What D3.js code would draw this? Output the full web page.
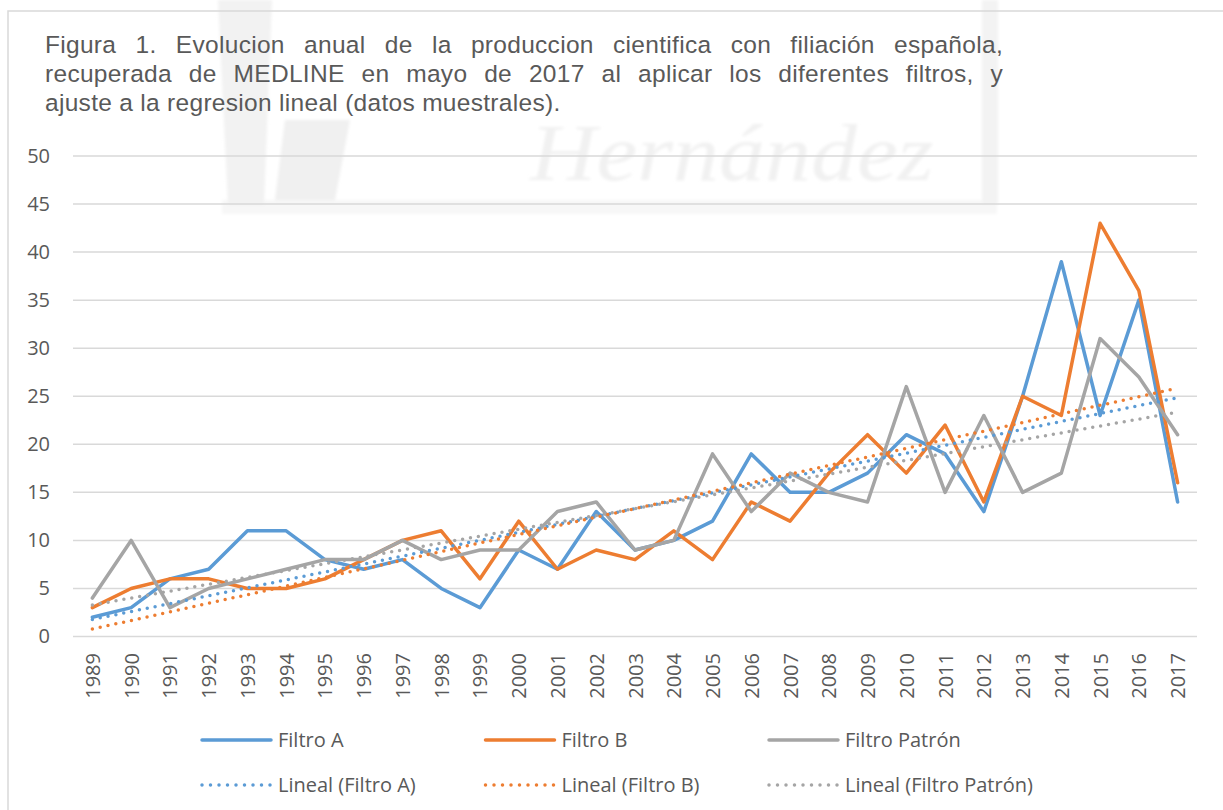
<!DOCTYPE html>
<html>
<head>
<meta charset="utf-8">
<script src="https://cdn.jsdelivr.net/npm/d3@7"></script>
<style>
  body { margin: 0; background: #fff; }
  svg { display: block; }
</style>
</head>
<body>
<div id="chart"></div>
<script>
// data
const years = ['1989','1990','1991','1992','1993','1994','1995','1996','1997','1998',
  '1999','2000','2001','2002','2003','2004','2005','2006','2007','2008',
  '2009','2010','2011','2012','2013','2014','2015','2016','2017']
const filtroA = [2,3,6,7,11,11,8,7,8,5,3,9,7,13,9,10,12,19,15,15,17,21,19,13,25,39,23,35,14]
const filtroB = [3,5,6,6,5,5,6,8,10,11,6,12,7,9,8,11,8,14,12,17,21,17,22,14,25,23,43,36,16]
const filtroPatron = [4,10,3,5,6,7,8,8,10,8,9,9,13,14,9,10,19,13,17,15,14,26,15,23,15,17,31,27,21]
const yTicks = [0,5,10,15,20,25,30,35,40,45,50]
const seriesNames = ['Filtro A', 'Filtro B', 'Filtro Patrón']
const colors = ['#5b9bd5', '#ed7d31', '#a5a5a5']
const titleLines = [
  'Figura 1. Evolucion anual de la produccion cientifica con filiación española,',
  'recuperada de MEDLINE en mayo de 2017 al aplicar los diferentes filtros, y',
  'ajuste a la regresion lineal (datos muestrales).'
]

const W = 1223, H = 810
const svg = d3.select('#chart').append('svg').attr('width', W).attr('height', H)

// faint, blurry watermark of the source page
const defs = svg.append('defs')
defs.append('filter').attr('id', 'soft')
  .append('feGaussianBlur').attr('stdDeviation', 1.8)
const wm = svg.append('g').attr('filter', 'url(#soft)')
wm.append('rect').attr('x', 222).attr('y', 200).attr('width', 775).attr('height', 14).attr('fill', '#f7f7f7')
wm.append('rect').attr('x', 982).attr('y', 0).attr('width', 16).attr('height', 204).attr('fill', '#f3f3f3')
wm.append('path').attr('d', 'M218,0 L272,0 L264,205 L228,205 Z').attr('fill', '#f2f2f2')
wm.append('path').attr('d', 'M285,120 L350,120 L335,200 L275,200 Z').attr('fill', '#f0f0f0')
wm.append('text').attr('x', 530).attr('y', 180).attr('fill', '#f1f1f1')
  .style('font-family', '"Liberation Serif", serif').style('font-style', 'italic')
  .style('font-size', '80px')
  .attr('transform', 'translate(530,0) scale(1.15,1) translate(-530,0)')
  .text('Hernández')

// outer frame
svg.append('rect').attr('x', 8).attr('y', 11).attr('width', 1400).attr('height', 1000)
  .attr('fill', 'none').attr('stroke', '#d9d9d9').attr('stroke-width', 1.5)

// title, first two lines justified
const titleG = svg.append('g')
  .style('font-family', '"Liberation Sans", Arial, sans-serif')
  .style('font-size', '24.5px').style('letter-spacing', '0.3px').attr('fill', '#595959')
titleLines.forEach((t, i) => {
  const txt = titleG.append('text').attr('x', 45).attr('y', 53 + i * 29).text(t)
  if (i < 2) {
    const natural = txt.node().getComputedTextLength()
    const gaps = t.split(' ').length - 1
    txt.style('word-spacing', Math.max(0, (1003 - 45 - natural) / gaps) + 'px')
  }
})

const x = d3.scalePoint().domain(years).range([73, 1197]).padding(0.5)
const y = d3.scaleLinear().domain([0, 50]).range([636.5, 156])

// gridlines
svg.append('g').selectAll('line').data(yTicks).join('line')
  .attr('x1', 73).attr('x2', 1197)
  .attr('y1', d => y(d)).attr('y2', d => y(d))
  .attr('stroke', '#d9d9d9').attr('stroke-width', 1.5)

// axes
const yAxis = svg.append('g').attr('transform', 'translate(50,0)')
  .call(d3.axisLeft(y).tickValues(yTicks).tickSize(0).tickPadding(0))
yAxis.select('.domain').remove()
yAxis.selectAll('text').attr('fill', '#595959')
  .style('font-family', '"Open Sans", sans-serif').style('font-size', '20px')

const xAxis = svg.append('g').attr('transform', 'translate(0,653)')
  .call(d3.axisBottom(x).tickSize(0).tickPadding(0))
xAxis.select('.domain').remove()
xAxis.selectAll('text').attr('fill', '#595959')
  .style('font-family', '"Open Sans", sans-serif').style('font-size', '20px')
  .attr('transform', 'rotate(-90)').attr('text-anchor', 'end')
  .attr('x', 0).attr('y', 0).attr('dy', '0.35em')

// least squares trend, as the spreadsheet's "Lineal" trendline
function linearFit(vals) {
  const xs = vals.map((v, i) => i)
  const mx = d3.mean(xs), my = d3.mean(vals)
  const b = d3.sum(xs, (xi, i) => (xi - mx) * (vals[i] - my)) / d3.sum(xs, xi => (xi - mx) ** 2)
  const a = my - b * mx
  return [a, a + b * (vals.length - 1)]
}

const allSeries = [filtroA, filtroB, filtroPatron]
const line = d3.line().x((d, i) => x(years[i])).y(d => y(d))

const plot = svg.append('g')
allSeries.forEach((vals, k) => {
  plot.append('path').datum(vals).attr('d', line)
    .attr('fill', 'none').attr('stroke', colors[k]).attr('stroke-width', 3.5)
    .attr('stroke-linejoin', 'round').attr('stroke-linecap', 'round')
})
allSeries.forEach((vals, k) => {
  const [y0, y1] = linearFit(vals)
  plot.append('line')
    .attr('x1', x(years[0])).attr('y1', y(y0))
    .attr('x2', x(years[years.length - 1])).attr('y2', y(y1))
    .attr('stroke', colors[k]).attr('stroke-width', 3.5)
    .attr('stroke-linecap', 'round').attr('stroke-dasharray', '0 8')
})

// legend
const legend = svg.append('g')
  .style('font-family', '"Open Sans", sans-serif').style('font-size', '20px')
const legendItems = []
seriesNames.forEach((n, k) => legendItems.push({ label: n, color: colors[k], dotted: false, col: k, row: 0 }))
seriesNames.forEach((n, k) => legendItems.push({ label: 'Lineal (' + n + ')', color: colors[k], dotted: true, col: k, row: 1 }))
legendItems.forEach(it => {
  const lx = 202 + it.col * 283.5, ly = 740 + it.row * 45
  legend.append('line').attr('x1', lx).attr('x2', lx + 69).attr('y1', ly).attr('y2', ly)
    .attr('stroke', it.color).attr('stroke-width', 3.5).attr('stroke-linecap', 'round')
    .attr('stroke-dasharray', it.dotted ? '0 8.5' : null)
  legend.append('text').attr('x', lx + 76).attr('y', ly).attr('dy', '0.35em')
    .attr('fill', '#595959').text(it.label)
})
</script>
</body>
</html>
